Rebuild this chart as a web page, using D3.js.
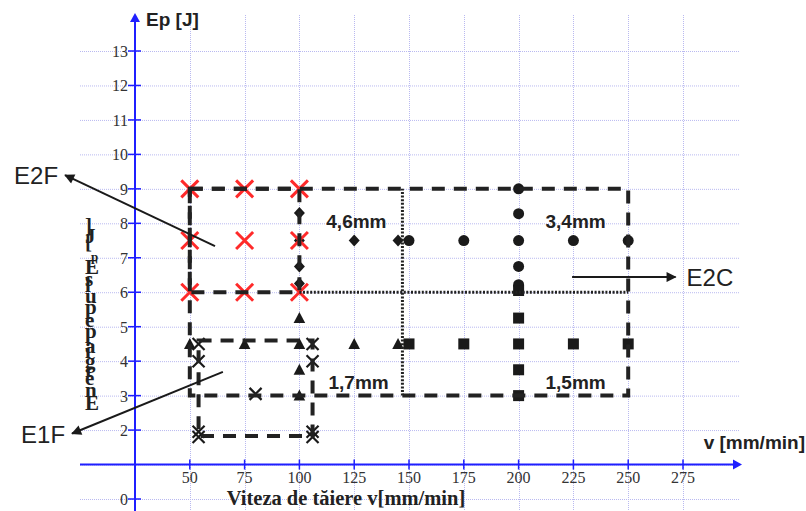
<!DOCTYPE html>
<html>
<head>
<meta charset="utf-8">
<script src="https://cdn.jsdelivr.net/npm/d3@7"></script>
<style>
  html, body { margin: 0; padding: 0; background: #fff; }
  svg { display: block; }
</style>
</head>
<body>
<svg id="chart" width="806" height="511"></svg>
<script>
// Axis ticks
const xTicks = [50, 75, 100, 125, 150, 175, 200, 225, 250, 275];
const yTicks = [0, 2, 3, 4, 5, 6, 7, 8, 9, 10, 11, 12, 13];
const yGrid = [0, 1, 2, 3, 4, 5, 6, 7, 8, 9, 10, 11, 12, 13];

// Measured points [v mm/min, Ep J]
const redCross = [[50, 9], [75, 9], [100, 9], [50, 7.5], [75, 7.5], [100, 7.5], [50, 6], [75, 6], [100, 6]];
const diamonds = [[100, 8.3], [100, 7.5], [100, 6.75], [100, 6.25], [125, 7.5], [145, 7.5]];
const circles = [[150, 7.5], [175, 7.5], [200, 7.5], [225, 7.5], [250, 7.5], [200, 9], [200, 8.28], [200, 6.75], [200, 6.22]];
const triangles = [[50, 4.5], [75, 4.5], [100, 4.5], [125, 4.5], [145, 4.5], [100, 5.25], [100, 3.75], [100, 3]];
const squares = [[150, 4.5], [175, 4.5], [200, 4.5], [225, 4.5], [250, 4.5], [200, 5.25], [200, 3.75], [200, 3], [200, 6.05]];
const blackCross = [[54, 4.5], [54, 4], [54, 1.95], [54, 1.8], [80, 3.05], [106, 4.5], [106, 4], [106, 1.95], [106, 1.8]];

// Regions [v0, v1, Ep0, Ep1]
const dashedRegions = [[50, 250, 3, 9], [50, 100, 6, 9], [54, 106, 1.83, 4.6]];
// Dotted dividers [v0, Ep0, v1, Ep1]
const dottedLines = [[147, 3, 147, 9], [100, 6, 250, 6]];
// Region texts [label, v, Ep]
const regionLabels = [["4,6mm", 126, 7.85], ["3,4mm", 226, 7.85], ["1,7mm", 127, 3.2], ["1,5mm", 226, 3.2]];
// Annotation arrows [label, fromV, fromEp, toV, toEp]
const arrows = [["E2F", 61.5, 7.34, -6.9, 9.4], ["E1F", 65.1, 3.69, -3.7, 1.9], ["E2C", 224.4, 6.44, 271.6, 6.44]];

const svg = d3.select("#chart");
const x = d3.scaleLinear().domain([25, 275]).range([135, 683]);
const y = d3.scaleLinear().domain([0, 13]).range([499, 51]);

const defs = svg.append("defs");
defs.append("marker").attr("id", "blackHead").attr("viewBox", "0 0 10 10")
  .attr("refX", 9).attr("refY", 5).attr("markerWidth", 14).attr("markerHeight", 10)
  .attr("markerUnits", "userSpaceOnUse").attr("orient", "auto")
  .append("path").attr("d", "M0,0L10,5L0,10Z").attr("fill", "#1a1a1a");

// Grid
const grid = svg.append("g").attr("stroke", "#b9b9f0").attr("stroke-width", 1).attr("stroke-dasharray", "1,1");
grid.selectAll("line.h").data(yGrid).join("line").attr("class", "h")
  .attr("x1", 80).attr("x2", 740).attr("y1", d => y(d) + 0.5).attr("y2", d => y(d) + 0.5);
grid.selectAll("line.v").data(xTicks).join("line").attr("class", "v")
  .attr("y1", 15).attr("y2", 511).attr("x1", d => Math.round(x(d)) + 0.5).attr("x2", d => Math.round(x(d)) + 0.5);

// Axes
const blue = "#1f1fff";
const axisY = y(1);
svg.append("line").attr("x1", 80).attr("x2", 736).attr("y1", axisY).attr("y2", axisY)
  .attr("stroke", blue).attr("stroke-width", 2);
svg.append("path").attr("d", `M742,${axisY}L733,${axisY - 5}L733,${axisY + 5}Z`).attr("fill", blue);
svg.append("line").attr("x1", x(25)).attr("x2", x(25)).attr("y1", 511).attr("y2", 20)
  .attr("stroke", blue).attr("stroke-width", 2);
svg.append("path").attr("d", `M${x(25)},13L${x(25) - 5},22L${x(25) + 5},22Z`).attr("fill", blue);

svg.append("g").selectAll("line").data(xTicks).join("line")
  .attr("x1", d => x(d)).attr("x2", d => x(d)).attr("y1", axisY - 5).attr("y2", axisY + 5)
  .attr("stroke", blue).attr("stroke-width", 1.5);
svg.append("g").selectAll("line").data(yTicks).join("line")
  .attr("y1", d => y(d)).attr("y2", d => y(d)).attr("x1", x(25) - 7).attr("x2", x(25) + 6)
  .attr("stroke", blue).attr("stroke-width", 1.5);

const serif = "'Liberation Serif', 'Times New Roman', serif";
const sans = "'Liberation Sans', Arial, sans-serif";
svg.append("g").selectAll("text").data(xTicks).join("text")
  .attr("x", d => x(d)).attr("y", axisY + 18).attr("text-anchor", "middle")
  .attr("font-family", serif).attr("font-size", 16).attr("fill", "#333").text(d => d);
svg.append("g").selectAll("text").data(yTicks).join("text")
  .attr("x", x(25) - 7).attr("y", d => y(d) + 6).attr("text-anchor", "end")
  .attr("font-family", serif).attr("font-size", 16).attr("fill", "#333").text(d => d);

// Axis titles
svg.append("text").attr("x", 146).attr("y", 26).attr("font-family", sans).attr("font-weight", "bold")
  .attr("font-size", 19).attr("fill", "#222").text("Ep [J]");
svg.append("text").attr("x", 805).attr("y", 449).attr("text-anchor", "end").attr("font-family", sans)
  .attr("font-weight", "bold").attr("font-size", 19).attr("fill", "#222").text("v [mm/min]");
svg.append("text").attr("x", 346).attr("y", 505).attr("text-anchor", "middle").attr("font-family", serif)
  .attr("font-weight", "bold").attr("font-size", 20.5).attr("fill", "#222").text("Viteza de tăiere v[mm/min]");

// Vertical title with upright glyphs
const vt = svg.append("text").attr("transform", "translate(85,410) rotate(-90)")
  .attr("font-family", serif).attr("font-weight", "bold").attr("font-size", 21).attr("fill", "#222")
  .attr("letter-spacing", -0.6).attr("rotate", "90");
vt.append("tspan").attr("rotate", "90").text("Energia pe puls E");
vt.append("tspan").attr("rotate", "90").attr("font-size", 13).attr("dy", 6).text("p");
vt.append("tspan").attr("rotate", "90").attr("dy", -6).text(" [J]");

// Markers
const ink = "#1a1a1a";
const mk = svg.append("g");
const crossPath = s => `M${-s},${-s}L${s},${s}M${-s},${s}L${s},${-s}`;
mk.selectAll("path.c").data(blackCross).join("path").attr("class", "c")
  .attr("transform", d => `translate(${x(d[0])},${y(d[1])})`)
  .attr("d", crossPath(6)).attr("stroke", ink).attr("stroke-width", 2.2).attr("fill", "none");
mk.selectAll("path.d").data(diamonds).join("path").attr("class", "d")
  .attr("transform", d => `translate(${x(d[0])},${y(d[1])})`)
  .attr("d", "M0,-6L5.5,0L0,6L-5.5,0Z").attr("fill", ink);
mk.selectAll("circle").data(circles).join("circle")
  .attr("cx", d => x(d[0])).attr("cy", d => y(d[1])).attr("r", 5.5).attr("fill", ink);
mk.selectAll("path.t").data(triangles).join("path").attr("class", "t")
  .attr("transform", d => `translate(${x(d[0])},${y(d[1])})`)
  .attr("d", "M0,-6L5.8,5L-5.8,5Z").attr("fill", ink);
mk.selectAll("rect").data(squares).join("rect")
  .attr("x", d => x(d[0]) - 5.5).attr("y", d => y(d[1]) - 5.5).attr("width", 11).attr("height", 11).attr("fill", ink);
mk.selectAll("path.r").data(redCross).join("path").attr("class", "r")
  .attr("transform", d => `translate(${x(d[0])},${y(d[1])})`)
  .attr("d", crossPath(8.5)).attr("stroke", "#ff2a2a").attr("stroke-width", 3).attr("fill", "none");

// Dashed regions and dotted dividers
svg.append("g").selectAll("rect").data(dashedRegions).join("rect")
  .attr("x", d => x(d[0])).attr("y", d => y(d[3]))
  .attr("width", d => x(d[1]) - x(d[0])).attr("height", d => y(d[2]) - y(d[3]))
  .attr("fill", "none").attr("stroke", "#222").attr("stroke-width", 4).attr("stroke-dasharray", "13,9");
svg.append("g").selectAll("line").data(dottedLines).join("line")
  .attr("x1", d => x(d[0])).attr("y1", d => y(d[1])).attr("x2", d => x(d[2])).attr("y2", d => y(d[3]))
  .attr("stroke", "#222").attr("stroke-width", 3).attr("stroke-dasharray", "2,1.6");

svg.append("g").selectAll("text").data(regionLabels).join("text")
  .attr("x", d => x(d[1])).attr("y", d => y(d[2])).attr("text-anchor", "middle")
  .attr("font-family", sans).attr("font-weight", "bold").attr("font-size", 19).attr("fill", "#222")
  .text(d => d[0]);

// Annotation arrows and their labels
const ann = svg.append("g");
ann.selectAll("line").data(arrows).join("line")
  .attr("x1", d => x(d[1])).attr("y1", d => y(d[2])).attr("x2", d => x(d[3])).attr("y2", d => y(d[4]))
  .attr("stroke", "#1a1a1a").attr("stroke-width", 2).attr("marker-end", "url(#blackHead)");
ann.selectAll("text").data(arrows).join("text")
  .attr("x", d => d[0] === "E2C" ? x(d[3]) + 11 : x(d[3]) - 7)
  .attr("y", d => y(d[4]) + 9)
  .attr("text-anchor", d => d[0] === "E2C" ? "start" : "end")
  .attr("font-family", sans).attr("font-size", 24).attr("fill", "#222")
  .text(d => d[0]);
</script>
</body>
</html>
